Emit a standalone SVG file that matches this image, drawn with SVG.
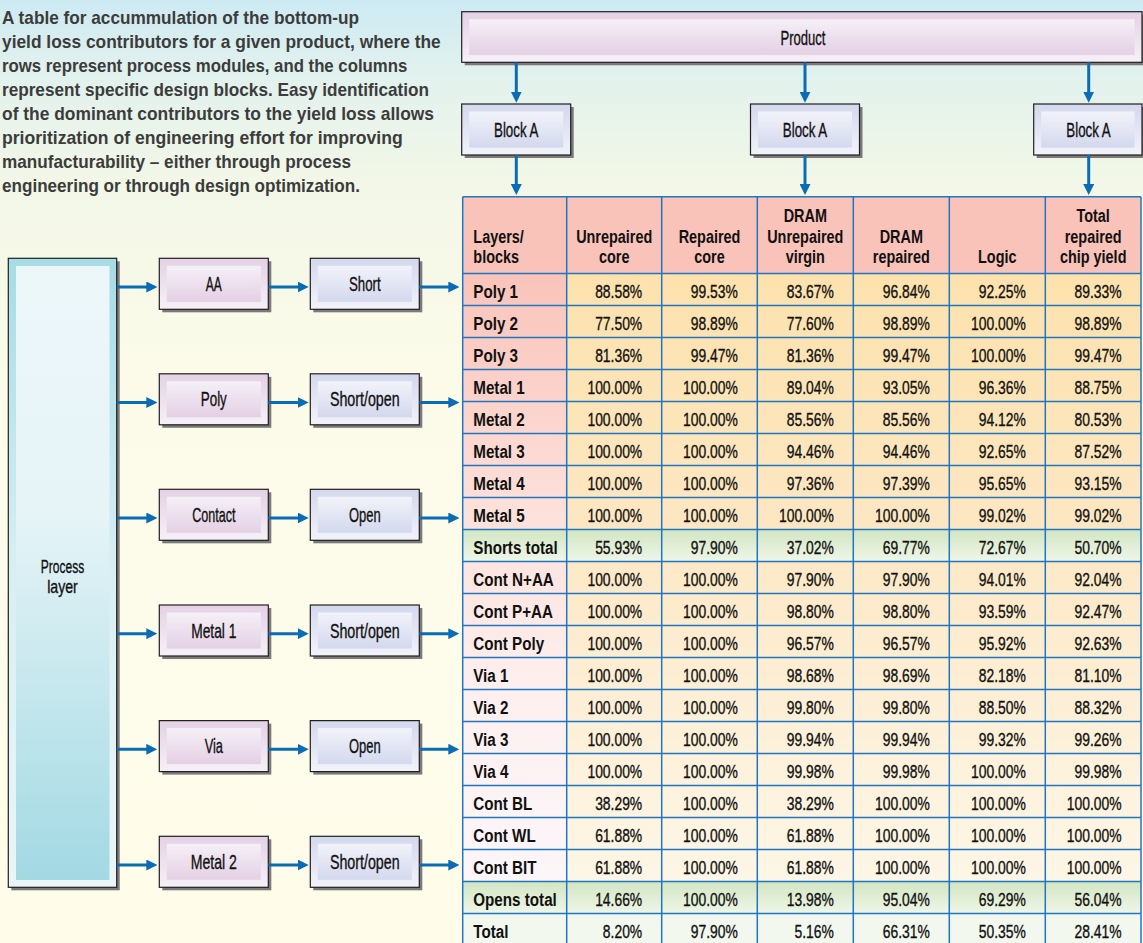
<svg xmlns="http://www.w3.org/2000/svg" width="1143" height="943" viewBox="0 0 1143 943">
<defs>
<linearGradient id="bg" x1="0" y1="0" x2="0" y2="1">
<stop offset="0" stop-color="#cdeaf3"/><stop offset="0.07" stop-color="#e0f1ee"/><stop offset="0.19" stop-color="#f2f7e7"/><stop offset="0.4" stop-color="#fcfbe9"/><stop offset="1" stop-color="#fffcea"/>
</linearGradient>
<linearGradient id="pinkOut" x1="0" y1="0" x2="0" y2="1"><stop offset="0" stop-color="#e4d1e5"/><stop offset="1" stop-color="#f6f1f8"/></linearGradient>
<linearGradient id="pinkIn" x1="0" y1="0" x2="0" y2="1"><stop offset="0" stop-color="#f5f0f7"/><stop offset="1" stop-color="#e4d0e4"/></linearGradient>
<linearGradient id="blueOut" x1="0" y1="0" x2="0" y2="1"><stop offset="0" stop-color="#d3d8ed"/><stop offset="1" stop-color="#f2f3fa"/></linearGradient>
<linearGradient id="blueIn" x1="0" y1="0" x2="0" y2="1"><stop offset="0" stop-color="#f2f3fa"/><stop offset="1" stop-color="#d3d8ed"/></linearGradient>
<linearGradient id="cyanOut" x1="0" y1="0" x2="0" y2="1"><stop offset="0" stop-color="#a6dce5"/><stop offset="0.5" stop-color="#d8eff3"/><stop offset="1" stop-color="#eaf6f8"/></linearGradient>
<linearGradient id="cyanIn" x1="0" y1="0" x2="0" y2="1"><stop offset="0" stop-color="#ecf7fa"/><stop offset="0.4" stop-color="#e6f4f7"/><stop offset="1" stop-color="#a3d9e3"/></linearGradient>
<linearGradient id="labelCol" gradientUnits="userSpaceOnUse" x1="0" y1="273.5" x2="0" y2="881.5"><stop offset="0" stop-color="#f9c4ba"/><stop offset="0.4" stop-color="#fde1db"/><stop offset="0.7" stop-color="#fdf0ef"/><stop offset="1" stop-color="#fcf6f9"/></linearGradient>
<linearGradient id="dataCol" gradientUnits="userSpaceOnUse" x1="0" y1="273.5" x2="0" y2="881.5"><stop offset="0" stop-color="#fde2ad"/><stop offset="0.4" stop-color="#fde7c2"/><stop offset="0.7" stop-color="#fdefd6"/><stop offset="1" stop-color="#fdf6e6"/></linearGradient>
<linearGradient id="green" x1="0" y1="0" x2="0" y2="1"><stop offset="0" stop-color="#d2e6c3"/><stop offset="1" stop-color="#eff6e7"/></linearGradient>
<marker id="ah" markerUnits="userSpaceOnUse" markerWidth="11" markerHeight="11" refX="3" refY="5.5" orient="auto">
<path d="M0,0 L11,5.5 L0,11 z" fill="#0b6cb6"/>
</marker>
</defs>
<style>
.box{stroke:#231f20;stroke-width:1.2}
.sh{fill:#7a7a7a}
.bl{font-family:"Liberation Sans",Arial,sans-serif;font-size:21px;fill:#111;stroke:#111;stroke-width:0.35;text-anchor:middle}
.pl{font-family:"Liberation Sans",Arial,sans-serif;font-size:19px;fill:#111;stroke:#111;stroke-width:0.35;text-anchor:middle}
.cap{font-family:"Liberation Sans",Arial,sans-serif;font-size:19px;font-weight:bold;fill:#3c3c3c}
.conn line{stroke:#0b6cb6;stroke-width:3;marker-end:url(#ah)}
.grid line{stroke:#1f76c2;stroke-width:1.5}
.hd{font-family:"Liberation Sans",Arial,sans-serif;font-size:19px;font-weight:bold;fill:#111;text-anchor:middle}
.hl{font-family:"Liberation Sans",Arial,sans-serif;font-size:19px;font-weight:bold;fill:#111}
.lb{font-family:"Liberation Sans",Arial,sans-serif;font-size:19px;font-weight:bold;fill:#111}
.dt{font-family:"Liberation Sans",Arial,sans-serif;font-size:19px;fill:#111;stroke:#111;stroke-width:0.35;text-anchor:end}
</style>
<rect x="0" y="0" width="1143" height="943" fill="url(#bg)"/>

<g id="caption">
<text class="cap" x="2" y="24" textLength="357" lengthAdjust="spacingAndGlyphs">A table for accummulation of the bottom-up</text>
<text class="cap" x="2" y="48" textLength="438.7" lengthAdjust="spacingAndGlyphs">yield loss contributors for a given product, where the</text>
<text class="cap" x="2" y="72.1" textLength="405.3" lengthAdjust="spacingAndGlyphs">rows represent process modules, and the columns</text>
<text class="cap" x="2" y="96.1" textLength="427" lengthAdjust="spacingAndGlyphs">represent specific design blocks.  Easy identification</text>
<text class="cap" x="2" y="120.2" textLength="432" lengthAdjust="spacingAndGlyphs">of the dominant contributors to the yield loss allows</text>
<text class="cap" x="2" y="144.2" textLength="400.7" lengthAdjust="spacingAndGlyphs">prioritization of engineering effort for improving</text>
<text class="cap" x="2" y="168.2" textLength="349" lengthAdjust="spacingAndGlyphs">manufacturability – either through process</text>
<text class="cap" x="2" y="192.3" textLength="358" lengthAdjust="spacingAndGlyphs">engineering or through design optimization.</text>
</g>

<g id="product">
<rect class="sh" x="464.7" y="14.7" width="680.3" height="50.6"/>
<rect class="box" x="461.7" y="11.7" width="680.3" height="50.6" fill="url(#pinkOut)"/>
<rect x="469.2" y="19.2" width="665.3" height="35.6" fill="url(#pinkIn)"/>
<text class="bl" x="803" y="44.5" textLength="45" lengthAdjust="spacingAndGlyphs">Product</text>
</g>

<g id="blockA1">
<rect class="sh" x="464.7" y="107" width="109" height="51"/>
<rect class="box" x="461.7" y="104" width="109" height="51" fill="url(#blueOut)"/>
<rect x="469.2" y="111.5" width="94" height="36" fill="url(#blueIn)"/>
<text class="bl" x="516.2" y="136.5" textLength="44.3" lengthAdjust="spacingAndGlyphs">Block A</text>
</g>
<g id="blockA2">
<rect class="sh" x="753.5" y="107" width="109" height="51"/>
<rect class="box" x="750.5" y="104" width="109" height="51" fill="url(#blueOut)"/>
<rect x="758" y="111.5" width="94" height="36" fill="url(#blueIn)"/>
<text class="bl" x="805" y="136.5" textLength="44.3" lengthAdjust="spacingAndGlyphs">Block A</text>
</g>
<g id="blockA3">
<rect class="sh" x="1036.7" y="107" width="109" height="51"/>
<rect class="box" x="1033.7" y="104" width="108.3" height="51" fill="url(#blueOut)"/>
<rect x="1041.2" y="111.5" width="93.3" height="36" fill="url(#blueIn)"/>
<text class="bl" x="1088.5" y="136.5" textLength="44.3" lengthAdjust="spacingAndGlyphs">Block A</text>
</g>

<g id="processLayer">
<rect class="sh" x="11.3" y="261.3" width="108.4" height="629"/>
<rect class="box" x="8.3" y="258.3" width="108.4" height="629" fill="url(#cyanOut)"/>
<rect x="16" y="266" width="93.5" height="614" fill="url(#cyanIn)"/>
<text class="pl" x="62.5" y="572.8" textLength="43.3" lengthAdjust="spacingAndGlyphs">Process</text>
<text class="pl" x="62.5" y="593" textLength="30.7" lengthAdjust="spacingAndGlyphs">layer</text>
</g>

<g id="nodeAA">
<rect class="sh" x="162.3" y="261.3" width="109" height="51"/>
<rect class="box" x="159.3" y="258.3" width="109" height="51" fill="url(#pinkOut)"/>
<rect x="166.8" y="265.8" width="94" height="36" fill="url(#pinkIn)"/>
<text class="bl" x="213.8" y="290.8" textLength="16" lengthAdjust="spacingAndGlyphs">AA</text>
</g>
<g id="nodeShort1">
<rect class="sh" x="313.3" y="261.3" width="109" height="51"/>
<rect class="box" x="310.3" y="258.3" width="109" height="51" fill="url(#blueOut)"/>
<rect x="317.8" y="265.8" width="94" height="36" fill="url(#blueIn)"/>
<text class="bl" x="364.8" y="290.8" textLength="31.7" lengthAdjust="spacingAndGlyphs">Short</text>
</g>

<g id="nodePoly">
<rect class="sh" x="162.3" y="376.8" width="109" height="51"/>
<rect class="box" x="159.3" y="373.8" width="109" height="51" fill="url(#pinkOut)"/>
<rect x="166.8" y="381.3" width="94" height="36" fill="url(#pinkIn)"/>
<text class="bl" x="213.8" y="406.3" textLength="26" lengthAdjust="spacingAndGlyphs">Poly</text>
</g>
<g id="nodeShortOpen1">
<rect class="sh" x="313.3" y="376.8" width="109" height="51"/>
<rect class="box" x="310.3" y="373.8" width="109" height="51" fill="url(#blueOut)"/>
<rect x="317.8" y="381.3" width="94" height="36" fill="url(#blueIn)"/>
<text class="bl" x="364.8" y="406.3" textLength="69.7" lengthAdjust="spacingAndGlyphs">Short/open</text>
</g>

<g id="nodeContact">
<rect class="sh" x="162.3" y="492.3" width="109" height="51"/>
<rect class="box" x="159.3" y="489.3" width="109" height="51" fill="url(#pinkOut)"/>
<rect x="166.8" y="496.8" width="94" height="36" fill="url(#pinkIn)"/>
<text class="bl" x="213.8" y="521.8" textLength="43.3" lengthAdjust="spacingAndGlyphs">Contact</text>
</g>
<g id="nodeOpen1">
<rect class="sh" x="313.3" y="492.3" width="109" height="51"/>
<rect class="box" x="310.3" y="489.3" width="109" height="51" fill="url(#blueOut)"/>
<rect x="317.8" y="496.8" width="94" height="36" fill="url(#blueIn)"/>
<text class="bl" x="364.8" y="521.8" textLength="31.7" lengthAdjust="spacingAndGlyphs">Open</text>
</g>

<g id="nodeMetal1">
<rect class="sh" x="162.3" y="608" width="109" height="51"/>
<rect class="box" x="159.3" y="605" width="109" height="51" fill="url(#pinkOut)"/>
<rect x="166.8" y="612.5" width="94" height="36" fill="url(#pinkIn)"/>
<text class="bl" x="213.8" y="637.5" textLength="45.3" lengthAdjust="spacingAndGlyphs">Metal 1</text>
</g>
<g id="nodeShortOpen2">
<rect class="sh" x="313.3" y="608" width="109" height="51"/>
<rect class="box" x="310.3" y="605" width="109" height="51" fill="url(#blueOut)"/>
<rect x="317.8" y="612.5" width="94" height="36" fill="url(#blueIn)"/>
<text class="bl" x="364.8" y="637.5" textLength="69.7" lengthAdjust="spacingAndGlyphs">Short/open</text>
</g>

<g id="nodeVia">
<rect class="sh" x="162.3" y="723.6" width="109" height="51"/>
<rect class="box" x="159.3" y="720.6" width="109" height="51" fill="url(#pinkOut)"/>
<rect x="166.8" y="728.1" width="94" height="36" fill="url(#pinkIn)"/>
<text class="bl" x="213.8" y="753.1" textLength="18.3" lengthAdjust="spacingAndGlyphs">Via</text>
</g>
<g id="nodeOpen2">
<rect class="sh" x="313.3" y="723.6" width="109" height="51"/>
<rect class="box" x="310.3" y="720.6" width="109" height="51" fill="url(#blueOut)"/>
<rect x="317.8" y="728.1" width="94" height="36" fill="url(#blueIn)"/>
<text class="bl" x="364.8" y="753.1" textLength="31.7" lengthAdjust="spacingAndGlyphs">Open</text>
</g>

<g id="nodeMetal2">
<rect class="sh" x="162.3" y="839.3" width="109" height="51"/>
<rect class="box" x="159.3" y="836.3" width="109" height="51" fill="url(#pinkOut)"/>
<rect x="166.8" y="843.8" width="94" height="36" fill="url(#pinkIn)"/>
<text class="bl" x="213.8" y="868.8" textLength="46.3" lengthAdjust="spacingAndGlyphs">Metal 2</text>
</g>
<g id="nodeShortOpen3">
<rect class="sh" x="313.3" y="839.3" width="109" height="51"/>
<rect class="box" x="310.3" y="836.3" width="109" height="51" fill="url(#blueOut)"/>
<rect x="317.8" y="843.8" width="94" height="36" fill="url(#blueIn)"/>
<text class="bl" x="364.8" y="868.8" textLength="69.7" lengthAdjust="spacingAndGlyphs">Short/open</text>
</g>

<g id="table">
<rect x="462.7" y="196.7" width="678.3" height="76.8" fill="#f9c3b9"/>
<rect x="462.7" y="273.5" width="104" height="608" fill="url(#labelCol)"/>
<rect x="566.7" y="273.5" width="574.3" height="608" fill="url(#dataCol)"/>
<rect x="462.7" y="529.5" width="678.3" height="32" fill="url(#green)"/>
<rect x="462.7" y="881.5" width="678.3" height="32" fill="url(#green)"/>
<rect x="462.7" y="913.5" width="678.3" height="32" fill="#f2f8ee"/>
<g class="grid">
<line x1="462.7" y1="196.7" x2="1141" y2="196.7"/>
<line x1="462.7" y1="273.5" x2="1141" y2="273.5"/>
<line x1="462.7" y1="305.5" x2="1141" y2="305.5"/>
<line x1="462.7" y1="337.5" x2="1141" y2="337.5"/>
<line x1="462.7" y1="369.5" x2="1141" y2="369.5"/>
<line x1="462.7" y1="401.5" x2="1141" y2="401.5"/>
<line x1="462.7" y1="433.5" x2="1141" y2="433.5"/>
<line x1="462.7" y1="465.5" x2="1141" y2="465.5"/>
<line x1="462.7" y1="497.5" x2="1141" y2="497.5"/>
<line x1="462.7" y1="529.5" x2="1141" y2="529.5"/>
<line x1="462.7" y1="561.5" x2="1141" y2="561.5"/>
<line x1="462.7" y1="593.5" x2="1141" y2="593.5"/>
<line x1="462.7" y1="625.5" x2="1141" y2="625.5"/>
<line x1="462.7" y1="657.5" x2="1141" y2="657.5"/>
<line x1="462.7" y1="689.5" x2="1141" y2="689.5"/>
<line x1="462.7" y1="721.5" x2="1141" y2="721.5"/>
<line x1="462.7" y1="753.5" x2="1141" y2="753.5"/>
<line x1="462.7" y1="785.5" x2="1141" y2="785.5"/>
<line x1="462.7" y1="817.5" x2="1141" y2="817.5"/>
<line x1="462.7" y1="849.5" x2="1141" y2="849.5"/>
<line x1="462.7" y1="881.5" x2="1141" y2="881.5"/>
<line x1="462.7" y1="913.5" x2="1141" y2="913.5"/>
<line x1="462.7" y1="196.7" x2="462.7" y2="945"/>
<line x1="566.7" y1="196.7" x2="566.7" y2="945"/>
<line x1="661.7" y1="196.7" x2="661.7" y2="945"/>
<line x1="757.3" y1="196.7" x2="757.3" y2="945"/>
<line x1="853.3" y1="196.7" x2="853.3" y2="945"/>
<line x1="949.3" y1="196.7" x2="949.3" y2="945"/>
<line x1="1045.3" y1="196.7" x2="1045.3" y2="945"/>
<line x1="1141" y1="196.7" x2="1141" y2="945"/>
</g>
<g transform="scale(0.76 1)">
<text class="hl" x="622.8" y="243.3">Layers/</text>
<text class="hl" x="622.8" y="263.3">blocks</text>
<text class="hd" x="808.2" y="243.3">Unrepaired</text>
<text class="hd" x="808.2" y="263.3">core</text>
<text class="hd" x="933.6" y="243.3">Repaired</text>
<text class="hd" x="933.6" y="263.3">core</text>
<text class="hd" x="1059.6" y="222">DRAM</text>
<text class="hd" x="1059.6" y="243.3">Unrepaired</text>
<text class="hd" x="1059.6" y="263.3">virgin</text>
<text class="hd" x="1185.9" y="243.3">DRAM</text>
<text class="hd" x="1185.9" y="263.3">repaired</text>
<text class="hd" x="1312.2" y="263.3">Logic</text>
<text class="hd" x="1438.4" y="222">Total</text>
<text class="hd" x="1438.4" y="243.3">repaired</text>
<text class="hd" x="1438.4" y="263.3">chip yield</text>
</g>
<g transform="scale(0.8 1)">
<text class="lb" x="591.6" y="298">Poly 1</text>
<text class="lb" x="591.6" y="330">Poly 2</text>
<text class="lb" x="591.6" y="362">Poly 3</text>
<text class="lb" x="591.6" y="394">Metal 1</text>
<text class="lb" x="591.6" y="426">Metal 2</text>
<text class="lb" x="591.6" y="458">Metal 3</text>
<text class="lb" x="591.6" y="490">Metal 4</text>
<text class="lb" x="591.6" y="522">Metal 5</text>
<text class="lb" x="591.6" y="554">Shorts total</text>
<text class="lb" x="591.6" y="586">Cont N+AA</text>
<text class="lb" x="591.6" y="618">Cont P+AA</text>
<text class="lb" x="591.6" y="650">Cont Poly</text>
<text class="lb" x="591.6" y="682">Via 1</text>
<text class="lb" x="591.6" y="714">Via 2</text>
<text class="lb" x="591.6" y="746">Via 3</text>
<text class="lb" x="591.6" y="778">Via 4</text>
<text class="lb" x="591.6" y="810">Cont BL</text>
<text class="lb" x="591.6" y="842">Cont WL</text>
<text class="lb" x="591.6" y="874">Cont BIT</text>
<text class="lb" x="591.6" y="906">Opens total</text>
<text class="lb" x="591.6" y="938">Total</text>
</g>
<g transform="scale(0.73 1)">
<text class="dt" x="879.7" y="298">88.58%</text><text class="dt" x="1010.7" y="298">99.53%</text><text class="dt" x="1142.2" y="298">83.67%</text><text class="dt" x="1273.7" y="298">96.84%</text><text class="dt" x="1405.2" y="298">92.25%</text><text class="dt" x="1536.3" y="298">89.33%</text>
<text class="dt" x="879.7" y="330">77.50%</text><text class="dt" x="1010.7" y="330">98.89%</text><text class="dt" x="1142.2" y="330">77.60%</text><text class="dt" x="1273.7" y="330">98.89%</text><text class="dt" x="1405.2" y="330">100.00%</text><text class="dt" x="1536.3" y="330">98.89%</text>
<text class="dt" x="879.7" y="362">81.36%</text><text class="dt" x="1010.7" y="362">99.47%</text><text class="dt" x="1142.2" y="362">81.36%</text><text class="dt" x="1273.7" y="362">99.47%</text><text class="dt" x="1405.2" y="362">100.00%</text><text class="dt" x="1536.3" y="362">99.47%</text>
<text class="dt" x="879.7" y="394">100.00%</text><text class="dt" x="1010.7" y="394">100.00%</text><text class="dt" x="1142.2" y="394">89.04%</text><text class="dt" x="1273.7" y="394">93.05%</text><text class="dt" x="1405.2" y="394">96.36%</text><text class="dt" x="1536.3" y="394">88.75%</text>
<text class="dt" x="879.7" y="426">100.00%</text><text class="dt" x="1010.7" y="426">100.00%</text><text class="dt" x="1142.2" y="426">85.56%</text><text class="dt" x="1273.7" y="426">85.56%</text><text class="dt" x="1405.2" y="426">94.12%</text><text class="dt" x="1536.3" y="426">80.53%</text>
<text class="dt" x="879.7" y="458">100.00%</text><text class="dt" x="1010.7" y="458">100.00%</text><text class="dt" x="1142.2" y="458">94.46%</text><text class="dt" x="1273.7" y="458">94.46%</text><text class="dt" x="1405.2" y="458">92.65%</text><text class="dt" x="1536.3" y="458">87.52%</text>
<text class="dt" x="879.7" y="490">100.00%</text><text class="dt" x="1010.7" y="490">100.00%</text><text class="dt" x="1142.2" y="490">97.36%</text><text class="dt" x="1273.7" y="490">97.39%</text><text class="dt" x="1405.2" y="490">95.65%</text><text class="dt" x="1536.3" y="490">93.15%</text>
<text class="dt" x="879.7" y="522">100.00%</text><text class="dt" x="1010.7" y="522">100.00%</text><text class="dt" x="1142.2" y="522">100.00%</text><text class="dt" x="1273.7" y="522">100.00%</text><text class="dt" x="1405.2" y="522">99.02%</text><text class="dt" x="1536.3" y="522">99.02%</text>
<text class="dt" x="879.7" y="554">55.93%</text><text class="dt" x="1010.7" y="554">97.90%</text><text class="dt" x="1142.2" y="554">37.02%</text><text class="dt" x="1273.7" y="554">69.77%</text><text class="dt" x="1405.2" y="554">72.67%</text><text class="dt" x="1536.3" y="554">50.70%</text>
<text class="dt" x="879.7" y="586">100.00%</text><text class="dt" x="1010.7" y="586">100.00%</text><text class="dt" x="1142.2" y="586">97.90%</text><text class="dt" x="1273.7" y="586">97.90%</text><text class="dt" x="1405.2" y="586">94.01%</text><text class="dt" x="1536.3" y="586">92.04%</text>
<text class="dt" x="879.7" y="618">100.00%</text><text class="dt" x="1010.7" y="618">100.00%</text><text class="dt" x="1142.2" y="618">98.80%</text><text class="dt" x="1273.7" y="618">98.80%</text><text class="dt" x="1405.2" y="618">93.59%</text><text class="dt" x="1536.3" y="618">92.47%</text>
<text class="dt" x="879.7" y="650">100.00%</text><text class="dt" x="1010.7" y="650">100.00%</text><text class="dt" x="1142.2" y="650">96.57%</text><text class="dt" x="1273.7" y="650">96.57%</text><text class="dt" x="1405.2" y="650">95.92%</text><text class="dt" x="1536.3" y="650">92.63%</text>
<text class="dt" x="879.7" y="682">100.00%</text><text class="dt" x="1010.7" y="682">100.00%</text><text class="dt" x="1142.2" y="682">98.68%</text><text class="dt" x="1273.7" y="682">98.69%</text><text class="dt" x="1405.2" y="682">82.18%</text><text class="dt" x="1536.3" y="682">81.10%</text>
<text class="dt" x="879.7" y="714">100.00%</text><text class="dt" x="1010.7" y="714">100.00%</text><text class="dt" x="1142.2" y="714">99.80%</text><text class="dt" x="1273.7" y="714">99.80%</text><text class="dt" x="1405.2" y="714">88.50%</text><text class="dt" x="1536.3" y="714">88.32%</text>
<text class="dt" x="879.7" y="746">100.00%</text><text class="dt" x="1010.7" y="746">100.00%</text><text class="dt" x="1142.2" y="746">99.94%</text><text class="dt" x="1273.7" y="746">99.94%</text><text class="dt" x="1405.2" y="746">99.32%</text><text class="dt" x="1536.3" y="746">99.26%</text>
<text class="dt" x="879.7" y="778">100.00%</text><text class="dt" x="1010.7" y="778">100.00%</text><text class="dt" x="1142.2" y="778">99.98%</text><text class="dt" x="1273.7" y="778">99.98%</text><text class="dt" x="1405.2" y="778">100.00%</text><text class="dt" x="1536.3" y="778">99.98%</text>
<text class="dt" x="879.7" y="810">38.29%</text><text class="dt" x="1010.7" y="810">100.00%</text><text class="dt" x="1142.2" y="810">38.29%</text><text class="dt" x="1273.7" y="810">100.00%</text><text class="dt" x="1405.2" y="810">100.00%</text><text class="dt" x="1536.3" y="810">100.00%</text>
<text class="dt" x="879.7" y="842">61.88%</text><text class="dt" x="1010.7" y="842">100.00%</text><text class="dt" x="1142.2" y="842">61.88%</text><text class="dt" x="1273.7" y="842">100.00%</text><text class="dt" x="1405.2" y="842">100.00%</text><text class="dt" x="1536.3" y="842">100.00%</text>
<text class="dt" x="879.7" y="874">61.88%</text><text class="dt" x="1010.7" y="874">100.00%</text><text class="dt" x="1142.2" y="874">61.88%</text><text class="dt" x="1273.7" y="874">100.00%</text><text class="dt" x="1405.2" y="874">100.00%</text><text class="dt" x="1536.3" y="874">100.00%</text>
<text class="dt" x="879.7" y="906">14.66%</text><text class="dt" x="1010.7" y="906">100.00%</text><text class="dt" x="1142.2" y="906">13.98%</text><text class="dt" x="1273.7" y="906">95.04%</text><text class="dt" x="1405.2" y="906">69.29%</text><text class="dt" x="1536.3" y="906">56.04%</text>
<text class="dt" x="879.7" y="938">8.20%</text><text class="dt" x="1010.7" y="938">97.90%</text><text class="dt" x="1142.2" y="938">5.16%</text><text class="dt" x="1273.7" y="938">66.31%</text><text class="dt" x="1405.2" y="938">50.35%</text><text class="dt" x="1536.3" y="938">28.41%</text>
</g>
</g>

<g id="connectors" class="conn">
<line x1="516.3" y1="62.3" x2="516.3" y2="94.7"/>
<line x1="805" y1="62.3" x2="805" y2="94.7"/>
<line x1="1088.7" y1="62.3" x2="1088.7" y2="94.7"/>
<line x1="516.3" y1="155" x2="516.3" y2="187"/>
<line x1="805" y1="155" x2="805" y2="187"/>
<line x1="1088.7" y1="155" x2="1088.7" y2="187"/>
<line x1="116.7" y1="287" x2="149.3" y2="287"/>
<line x1="268.3" y1="287" x2="300.7" y2="287"/>
<line x1="419.3" y1="287" x2="451.3" y2="287"/>
<line x1="116.7" y1="402.5" x2="149.3" y2="402.5"/>
<line x1="268.3" y1="402.5" x2="300.7" y2="402.5"/>
<line x1="419.3" y1="402.5" x2="451.3" y2="402.5"/>
<line x1="116.7" y1="518" x2="149.3" y2="518"/>
<line x1="268.3" y1="518" x2="300.7" y2="518"/>
<line x1="419.3" y1="518" x2="451.3" y2="518"/>
<line x1="116.7" y1="633.7" x2="149.3" y2="633.7"/>
<line x1="268.3" y1="633.7" x2="300.7" y2="633.7"/>
<line x1="419.3" y1="633.7" x2="451.3" y2="633.7"/>
<line x1="116.7" y1="749.3" x2="149.3" y2="749.3"/>
<line x1="268.3" y1="749.3" x2="300.7" y2="749.3"/>
<line x1="419.3" y1="749.3" x2="451.3" y2="749.3"/>
<line x1="116.7" y1="865" x2="149.3" y2="865"/>
<line x1="268.3" y1="865" x2="300.7" y2="865"/>
<line x1="419.3" y1="865" x2="451.3" y2="865"/>
</g>
</svg>
